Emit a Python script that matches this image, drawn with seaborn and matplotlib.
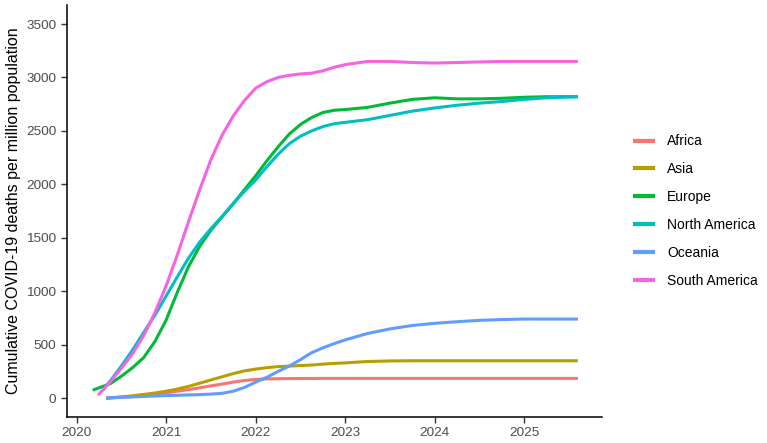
import matplotlib
matplotlib.use("Agg")
import matplotlib.pyplot as plt
import seaborn as sns
import pandas as pd

# Values (cumulative deaths per million).
continents = ["Africa", "Asia", "Europe", "North America", "Oceania", "South America"]
colors = ["#F8766D", "#B79F00", "#00BA38", "#00BFC4", "#619CFF", "#F564E3"]

# First observation of each series
start_year = [2020.33, 2020.33, 2020.18, 2020.30, 2020.33, 2020.24]
start_value = [0, 0, 75, 80, 0, 28]

# Shared points after the start (denser while the curves climb)
years = [2020.375, 2020.5, 2020.625, 2020.75, 2020.875,
         2021.0, 2021.125, 2021.25, 2021.375, 2021.5, 2021.625, 2021.75, 2021.875,
         2022.0, 2022.125, 2022.25, 2022.375, 2022.5, 2022.625, 2022.75, 2022.875,
         2023.0, 2023.25, 2023.5, 2023.75, 2024.0, 2024.25, 2024.5, 2024.75,
         2025.0, 2025.25, 2025.6]

africa = [2, 8, 15, 25, 37,
          50, 65, 80, 97, 115, 132, 150, 165,
          175, 180, 182, 183, 184, 184, 185, 185,
          185, 185, 185, 185, 185, 185, 185, 185,
          185, 185, 185]
asia = [3, 12, 22, 35, 48,
        65, 85, 110, 140, 170, 200, 230, 255,
        272, 285, 295, 300, 305, 310, 318, 325,
        330, 343, 348, 350, 350, 350, 350, 350,
        350, 350, 350]
europe = [135, 205, 285, 380, 530,
          730, 990, 1230, 1420, 1570, 1695, 1820, 1950,
          2080, 2220, 2350, 2470, 2560, 2625, 2672, 2693,
          2700, 2720, 2760, 2795, 2810, 2800, 2800, 2805,
          2815, 2820, 2820]
north_america = [160, 300, 450, 615, 775,
                 955, 1135, 1310, 1460, 1585, 1700, 1820, 1935,
                 2040, 2165, 2280, 2380, 2450, 2500, 2540, 2567,
                 2580, 2605, 2645, 2685, 2715, 2740, 2760, 2775,
                 2795, 2810, 2820]
oceania = [3, 8, 12, 16, 20,
           24, 27, 30, 33, 38, 45, 65, 100,
           150, 195, 250, 300, 360, 425, 470, 510,
           545, 605, 648, 680, 700, 715, 728, 735,
           740, 740, 740]
south_america = [150, 280, 415, 585, 800,
                 1050, 1340, 1650, 1950, 2230, 2460, 2640, 2785,
                 2900, 2960, 3000, 3020, 3033, 3040, 3062, 3095,
                 3120, 3150, 3150, 3140, 3135, 3140, 3145, 3150,
                 3150, 3150, 3150]

series = [africa, asia, europe, north_america, oceania, south_america]

rows = []
for name, y0, v0, vals in zip(continents, start_year, start_value, series):
    rows.append((name, y0, v0))
    for yr, v in zip(years, vals):
        rows.append((name, yr, v))
df = pd.DataFrame(rows, columns=["continent", "year", "deaths"])

sns.set_style("white")
plt.rcParams["font.family"] = ["Liberation Sans", "DejaVu Sans"]

fig = plt.figure(figsize=(7.67, 4.43), dpi=100)
ax = fig.add_axes([0.087, 0.059, 0.698, 0.929])

sns.lineplot(data=df, x="year", y="deaths", hue="continent", hue_order=continents,
             palette=colors, linewidth=2.2, estimator=None, ax=ax)
for line in ax.get_lines():
    line.set_solid_joinstyle("round")
    line.set_solid_capstyle("butt")

ax.set_xlim(2019.89, 2025.87)
ax.set_ylim(-175, 3675)
ax.set_xticks([2020, 2021, 2022, 2023, 2024, 2025])
ax.set_xticklabels(["2020", "2021", "2022", "2023", "2024", "2025"])
ax.set_yticks([0, 500, 1000, 1500, 2000, 2500, 3000, 3500])
ax.set_xlabel("")
ax.set_ylabel("Cumulative COVID-19 deaths per million population", fontsize=11.5,
              color="black")

for side in ["top", "right"]:
    ax.spines[side].set_visible(False)
for side in ["left", "bottom"]:
    ax.spines[side].set_color("black")
    ax.spines[side].set_linewidth(1.1)
ax.tick_params(axis="both", direction="out", length=4, width=1, color="#333333",
               labelsize=9.7, labelcolor="#4D4D4D", left=True, bottom=True)

handles, labels = ax.get_legend_handles_labels()
leg = ax.legend(handles, labels, loc="center left", bbox_to_anchor=(1.034, 0.5),
                frameon=False, fontsize=10, handlelength=1.6, labelspacing=1.0,
                handletextpad=0.86, labelcolor="black")
for line in leg.get_lines():
    line.set_linewidth(3)

fig.savefig("out.png", dpi=100)
